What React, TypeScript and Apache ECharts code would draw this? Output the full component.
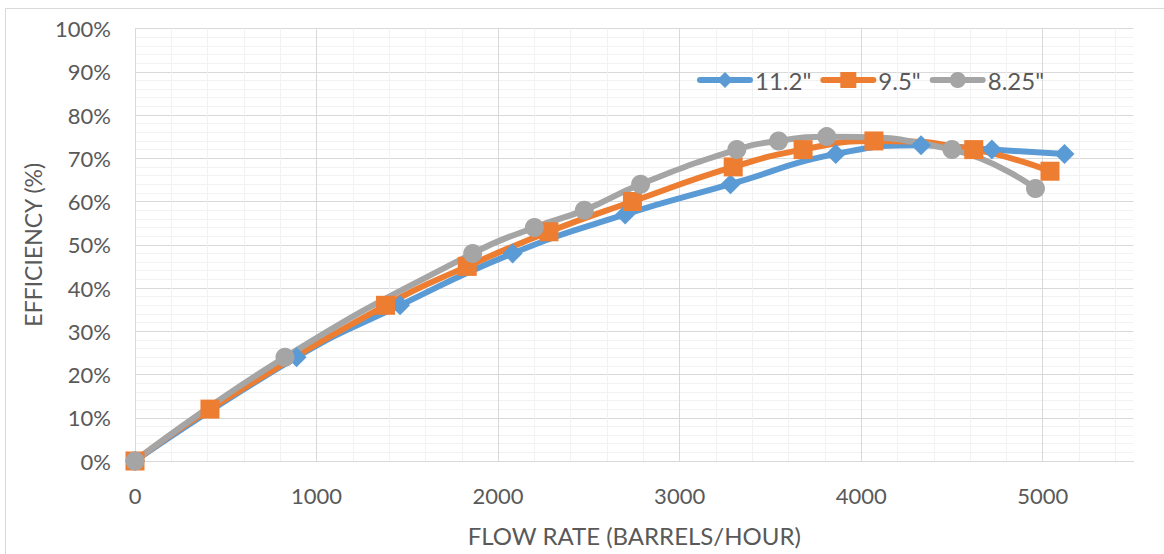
import React, { useEffect, useRef } from "react";
import * as echarts from "echarts";

const seriesNames = ['11.2"', '9.5"', '8.25"'];
const colors = ["#5B9BD5", "#ED7D31", "#A5A5A5"];

const flow112 = [0, 890, 1460, 2080, 2700, 3280, 3860, 4330, 4720, 5120];
const eff112 = [0, 24, 36, 48, 57, 64, 71, 73, 72, 71];

const flow95 = [0, 413, 1380, 1830, 2280, 2740, 3295, 3680, 4070, 4620, 5040];
const eff95 = [0, 12, 36, 45, 53, 60, 68, 72, 74, 72, 67];

const flow825 = [0, 826, 1860, 2200, 2475, 2785, 3315, 3545, 3810, 4500, 4960];
const eff825 = [0, 24, 48, 54, 58, 64, 72, 74, 75, 72, 63];

const xTicks = [0, 1000, 2000, 3000, 4000, 5000];

const FONT = "Lato";
const TEXT = "#595959";

export default function App() {
  const ref = useRef<HTMLDivElement>(null);
  useEffect(() => {
    if (!ref.current) return;
    const chart = echarts.init(ref.current, null, { renderer: "svg" });
    const pairs = (xs: number[], ys: number[]) => xs.map((x, i) => [x, ys[i]]);
    const symbols = ["diamond", "rect", "circle"];
    const sizes = [20, 19, 19];
    const datas = [pairs(flow112, eff112), pairs(flow95, eff95), pairs(flow825, eff825)];
    chart.setOption({
      animation: false,
      backgroundColor: "#ffffff",
      textStyle: { fontFamily: FONT },
      graphic: [
        {
          type: "rect",
          shape: { x: 5.5, y: 8.5, width: 1200, height: 600 },
          style: { fill: "none", stroke: "#D9D9D9", lineWidth: 1 },
          silent: true,
        },
      ],
      legend: {
        left: 697,
        top: 68,
        padding: 0,
        itemWidth: 50,
        itemHeight: 20,
        itemGap: 9,
        lineStyle: { width: 6 },
        textStyle: { color: TEXT, fontSize: 24, fontFamily: FONT },
        data: seriesNames,
      },
      grid: { left: 135, right: 30.5, top: 28.5, bottom: 93 },
      xAxis: {
        type: "value",
        min: 0,
        max: 5500,
        interval: 200,
        name: "FLOW RATE (BARRELS/HOUR)",
        nameLocation: "middle",
        nameGap: 62,
        nameTextStyle: { color: TEXT, fontSize: 24, fontFamily: FONT },
        axisLine: { show: true, lineStyle: { color: "#D9D9D9", width: 1 } },
        axisTick: { show: false },
        axisLabel: {
          color: TEXT,
          fontSize: 22,
          fontFamily: FONT,
          margin: 23,
          interval: 0,
          showMaxLabel: false,
          formatter: (v: number) => (xTicks.indexOf(Math.round(v)) >= 0 ? String(Math.round(v)) : ""),
        },
        splitLine: {
          show: true,
          showMaxLine: false,
          lineStyle: {
            color: ["#D9D9D9", "#F2F2F2", "#F2F2F2", "#F2F2F2", "#F2F2F2"],
            width: 1,
          },
        },
      },
      yAxis: {
        type: "value",
        min: 0,
        max: 100,
        interval: 10,
        name: "EFFICIENCY (%)",
        nameLocation: "middle",
        nameGap: 90,
        nameTextStyle: { color: TEXT, fontSize: 23, fontFamily: FONT },
        axisLine: { show: false },
        axisTick: { show: false },
        axisLabel: {
          color: TEXT,
          fontSize: 22,
          fontFamily: FONT,
          margin: 24,
          formatter: "{value}%",
        },
        splitLine: { show: true, lineStyle: { color: "#D9D9D9", width: 1 } },
        minorTick: { show: false, splitNumber: 5 },
        minorSplitLine: { show: true, lineStyle: { color: "#F2F2F2", width: 1 } },
      },
      series: seriesNames.map((name, i) => ({
        name,
        type: "line",
        data: datas[i],
        smooth: 0.5,
        symbol: symbols[i],
        symbolSize: sizes[i],
        showAllSymbol: true,
        lineStyle: { color: colors[i], width: 6, cap: "round", join: "round" },
        itemStyle: { color: colors[i] },
        emphasis: { disabled: true },
      })),
    });
    return () => chart.dispose();
  }, []);
  return (
    <div
      ref={ref}
      style={{ position: "fixed", left: 0, top: 0, width: 1164, height: 554 }}
    />
  );
}
